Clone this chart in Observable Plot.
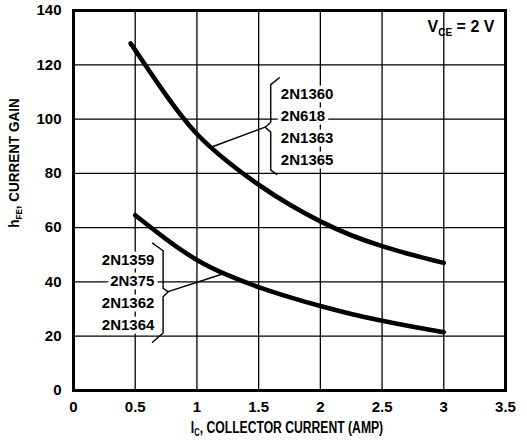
<!DOCTYPE html>
<html><head><meta charset="utf-8">
<script src="https://cdn.jsdelivr.net/npm/d3@7"></script>
<script src="https://cdn.jsdelivr.net/npm/@observablehq/plot@0.6"></script>
<style>
body{margin:0;background:#fff}
#chart svg{display:block}
</style>
</head><body><div id="chart"></div>
<script>
// ---- data ----
const currentHigh = [0.47, 0.5, 0.75, 1, 1.25, 1.5, 1.75, 2, 2.25, 2.5, 2.75, 3];
const gainHigh    = [127.3, 125.4, 108.8, 94.5, 84.3, 75.8, 68.5, 62.3, 57.2, 53.2, 49.9, 47];
const currentLow  = [0.5, 0.75, 1, 1.25, 1.5, 1.75, 2, 2.25, 2.5, 2.75, 3];
const gainLow     = [64.6, 55.8, 48.1, 42.5, 38.1, 34.4, 31.1, 28.2, 25.7, 23.5, 21.5];

const xTicks = [0, 0.5, 1, 1.5, 2, 2.5, 3, 3.5];
const yTicks = [0, 20, 40, 60, 80, 100, 120, 140];

const highLabels = ["2N1360", "2N618", "2N1363", "2N1365"];
const highLabelY = [109.3, 101.2, 93.0, 84.8];
const highLabelX = 1.68;
const lowLabels  = ["2N1359", "2N375", "2N1362", "2N1364"];
const lowLabelY  = [48.0, 40.3, 32.1, 24.0];
const lowLabelX  = 0.655;

const highBraceX = [1.668, 1.598, 1.598, 1.553, 1.598, 1.598, 1.647];
const highBraceY = [115.2, 112.7, 98.8, 97.0, 95.2, 81.2, 79.6];
const highLeaderX = [1.553, 1.12];
const highLeaderY = [97.0, 89.7];
const lowBraceX = [0.64, 0.726, 0.726, 0.767, 0.726, 0.726, 0.64];
const lowBraceY = [54.3, 51.5, 37.6, 36.4, 34.5, 21.2, 17.8];
const lowLeaderX = [0.767, 1.22];
const lowLeaderY = [36.4, 43.1];

const conditionX = 3.41, conditionY = 134;

// ---- build tables ----
const curves = [
  ...currentHigh.map((x, i) => ({x, y: gainHigh[i], s: "high"})),
  ...currentLow.map((x, i) => ({x, y: gainLow[i], s: "low"}))
];
const pts = (xs, ys, s) => xs.map((x, i) => ({x, y: ys[i], s}));
const braces = [
  ...pts(highBraceX, highBraceY, "hb"), ...pts(highLeaderX, highLeaderY, "hl"),
  ...pts(lowBraceX, lowBraceY, "lb"), ...pts(lowLeaderX, lowLeaderY, "ll")
];
const hiText = highLabels.map((t, i) => ({t, x: highLabelX, y: highLabelY[i]}));
const loText = lowLabels.map((t, i) => ({t, x: lowLabelX, y: lowLabelY[i]}));

const font = "'Liberation Sans', Arial, Helvetica, sans-serif";
const fmt = d => String(d);

const plot = Plot.plot({
  width: 527, height: 441,
  marginLeft: 73, marginRight: 22, marginTop: 10, marginBottom: 51,
  style: {fontFamily: font, fontWeight: "bold", fontSize: "15px", color: "#000", background: "#fff"},
  x: {domain: [0, 3.5]},
  y: {domain: [0, 140]},
  marks: [
    Plot.gridX(xTicks.slice(1, -1), {stroke: "#000", strokeOpacity: 1, strokeWidth: 1.3}),
    Plot.gridY(yTicks.slice(1, -1), {stroke: "#000", strokeOpacity: 1, strokeWidth: 1.3}),
    Plot.axisX({ticks: xTicks, tickSize: 0, tickPadding: 11, label: null, fontSize: 15, tickFormat: fmt}),
    Plot.axisY({ticks: yTicks, tickSize: 0, tickPadding: 12, label: null, fontSize: 15, tickFormat: fmt}),
    Plot.text(hiText, {x: "x", y: "y", text: "t", textAnchor: "start", fontSize: 15, stroke: "#fff", strokeWidth: 7, fill: "#000"}),
    Plot.text(loText, {x: "x", y: "y", text: "t", textAnchor: "end", fontSize: 15, stroke: "#fff", strokeWidth: 7, fill: "#000"}),
    Plot.line(braces, {x: "x", y: "y", z: "s", stroke: "#000", strokeWidth: 1.4}),
    Plot.line(curves, {x: "x", y: "y", z: "s", curve: "natural", stroke: "#000", strokeWidth: 4.6}),
    Plot.text([{x: conditionX, y: conditionY}], {x: "x", y: "y", text: () => "VCE = 2 V", textAnchor: "end", fontSize: 16, fill: "#000"}),
    Plot.frame({stroke: "#000", strokeWidth: 3})
  ]
});

document.getElementById("chart").appendChild(plot);
const svg = d3.select(plot);

// subscript rewrite for the condition label
svg.selectAll("text").filter(function(){ return this.textContent === "VCE = 2 V"; })
  .each(function(){
    const t = d3.select(this); t.text("");
    t.append("tspan").text("V");
    t.append("tspan").attr("font-size", 10).attr("dy", 4).text("CE");
    t.append("tspan").attr("dy", -4).text(" = 2 V");
  });

// axis titles with subscripts (condensed like the reference lettering)
const xt = svg.append("g").attr("transform", "translate(287,433) scale(0.76,1)")
  .append("text").attr("text-anchor", "middle")
  .attr("font-family", font)
  .attr("font-weight", "bold").attr("font-size", 16).attr("fill", "#000");
xt.append("tspan").text("I");
xt.append("tspan").attr("font-size", 10).attr("dy", 3).text("C");
xt.append("tspan").attr("dy", -3).text(", COLLECTOR CURRENT (AMP)");

const yt = svg.append("g").attr("transform", "translate(19,163) rotate(-90) scale(0.9,1)")
  .append("text").attr("text-anchor", "middle")
  .attr("font-family", font)
  .attr("font-weight", "bold").attr("font-size", 15).attr("fill", "#000");
yt.append("tspan").text("h");
yt.append("tspan").attr("font-size", 9).attr("dy", 3).text("FE");
yt.append("tspan").attr("dy", -3).text(", CURRENT GAIN");
</script>
</body></html>
